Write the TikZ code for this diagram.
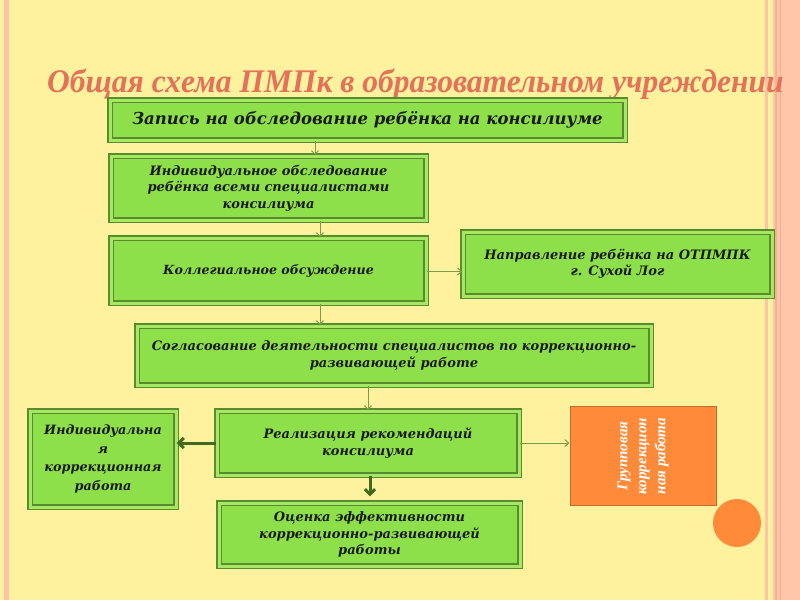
\documentclass[tikz,border=0pt]{standalone}
\usepackage{fontspec}
\setmainfont{Liberation Serif}
\newfontfamily\boxfont{DejaVu Serif}
\usetikzlibrary{arrows.meta}
\definecolor{bg}{HTML}{FFF29E}
\definecolor{pinkline}{HTML}{FFC3A6}
\definecolor{salmon}{HTML}{FFC6AA}
\definecolor{salmondark}{HTML}{F9B08F}
\definecolor{titlecol}{HTML}{E4715A}
\definecolor{gfill}{HTML}{8DE04A}
\definecolor{gdark}{HTML}{5C8A2E}
\definecolor{glight}{HTML}{A4E864}
\definecolor{ofill}{HTML}{FF8A3A}
\definecolor{odark}{HTML}{C86A2C}
\definecolor{arrthin}{HTML}{7C9C48}
\definecolor{arrthick}{HTML}{3E6B1E}
\definecolor{txt}{HTML}{1A1A1A}
\tikzset{
  gbox/.style={rectangle, draw=gdark, line width=1.4pt, double=glight, double distance=3pt,
    fill=gfill, text=txt, font=\boxfont\bfseries\itshape\fontsize{13}{16.5}\selectfont, align=center, inner sep=3pt},
  obox/.style={rectangle, draw=odark, line width=1pt, fill=ofill},
  thinarr/.style={draw=arrthin, line width=1pt, -{Straight Barb[length=4pt,width=7pt]}},
  thickarr/.style={draw=arrthick, line width=3pt, -{Straight Barb[length=5pt,width=10pt]}},
}
\begin{document}
\begin{tikzpicture}[x=1pt,y=-1pt]
\useasboundingbox (0,0) rectangle (800,600);
\fill[bg] (0,0) rectangle (800,600);
% borders
\fill[pinkline] (4,0) rectangle (8.5,600);
\fill[pinkline] (764.5,0) rectangle (768,600);
\fill[salmon] (773,0) rectangle (800,600);
\fill[salmondark] (775,0) rectangle (777,600);
\fill[salmondark] (780,0) rectangle (781,600);
% title
\node[anchor=base west, text=titlecol, font=\bfseries\itshape\fontsize{33}{36}\selectfont, inner sep=0pt]
  (title) at (47,92) {\scalebox{0.955}[1]{Общая схема ПМПк в образовательном учреждении}};
% boxes
\node[gbox, minimum width=515pt, minimum height=40pt, font=\boxfont\bfseries\itshape\fontsize{16.5}{18}\selectfont] (zapis) at (367.5,120) {Запись на обследование ребёнка на консилиуме};
\node[gbox, minimum width=315pt, minimum height=64pt, text width=300pt] (indiv) at (268.5,188) {Индивидуальное обследование\\ребёнка всеми специалистами\\консилиума};
\node[gbox, minimum width=315pt, minimum height=65pt, font=\boxfont\bfseries\itshape\fontsize{12.6}{16.5}\selectfont] (koll) at (268.5,270.5) {Коллегиальное обсуждение};
\node[gbox, minimum width=309pt, minimum height=64pt] (naprav) at (617.5,264) {Направление ребёнка на ОТПМПК\\г. Сухой Лог};
\node[gbox, minimum width=514pt, minimum height=59pt] (sogl) at (394,355.5) {Согласование деятельности специалистов по коррекционно-\\развивающей работе};
\node[gbox, minimum width=146pt, minimum height=96pt, font=\boxfont\bfseries\itshape\fontsize{12.8}{18.5}\selectfont] (indk) at (103,459) {Индивидуальна\\я\\коррекционная\\работа};
\node[gbox, minimum width=302pt, minimum height=64pt] (real) at (368,443) {Реализация рекомендаций\\консилиума};
\node[obox, minimum width=146pt, minimum height=99pt] (grupp) at (643,456) {};
\node[rotate=90, text=white, font=\bfseries\itshape\fontsize{15}{19}\selectfont, align=center, inner sep=0pt] (grupptxt) at (grupp.center) {Групповая\\коррекцион\\ная работа};
\node[gbox, minimum width=301pt, minimum height=63pt] (otsenka) at (369.5,534.5) {Оценка эффективности\\коррекционно-развивающей\\работы};
\node[circle, fill=ofill, minimum size=48pt, inner sep=0pt] (dot) at (737,523) {};
% connectors
\draw[thinarr] ([xshift=-52.5pt]zapis.south) -- ([xshift=46.5pt]indiv.north);
\draw[thinarr] ([xshift=51.5pt]indiv.south) -- ([xshift=51.5pt]koll.north);
\draw[thinarr] ([xshift=51.5pt]koll.south) -- ([xshift=-74pt]sogl.north);
\draw[thinarr] ([yshift=-1pt]koll.east) -- ([yshift=-1pt]koll.east -| naprav.west);
\draw[thinarr] ([xshift=-26pt]sogl.south) -- (real.north);
\draw[thickarr] (real.west) -- (real.west -| indk.east);
\draw[thinarr] (real.east) -- (real.east -| grupp.west);
\draw[thickarr] ([xshift=2pt]real.south) -- ([xshift=2pt,yshift=6pt]otsenka.north -| real.south);
\end{tikzpicture}
\end{document}
